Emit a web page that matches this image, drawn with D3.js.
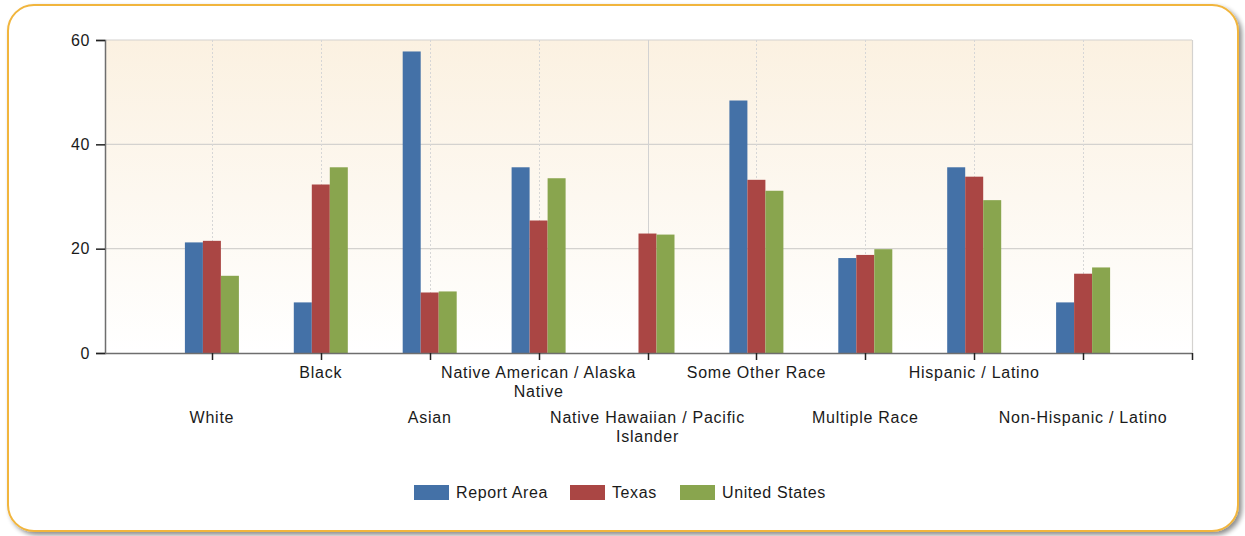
<!DOCTYPE html>
<html>
<head>
<meta charset="utf-8">
<script src="https://cdn.jsdelivr.net/npm/d3@7"></script>
<style>
  html, body { margin: 0; padding: 0; background: #ffffff; }
  svg { display: block; }
  text { font-family: "Liberation Sans", Arial, sans-serif; fill: #1a1a1a; }
</style>
</head>
<body>
<svg id="chart" width="1245" height="536"></svg>
<script>
// Race / ethnicity categories (axis order)
const categories = [
  "White", "Black", "Asian", "Native American / Alaska Native",
  "Native Hawaiian / Pacific Islander", "Some Other Race", "Multiple Race",
  "Hispanic / Latino", "Non-Hispanic / Latino"
];
// Wrapped label lines per category
const categoryLines = [
  ["White"], ["Black"], ["Asian"], ["Native American / Alaska", "Native"],
  ["Native Hawaiian / Pacific", "Islander"], ["Some Other Race"], ["Multiple Race"],
  ["Hispanic / Latino"], ["Non-Hispanic / Latino"]
];
const seriesNames = ["Report Area", "Texas", "United States"];
const reportArea   = [21.2, 9.7, 57.8, 35.6, 0, 48.4, 18.2, 35.6, 9.7];
const texas        = [21.5, 32.3, 11.6, 25.4, 22.9, 33.2, 18.8, 33.8, 15.2];
const unitedStates = [14.8, 35.6, 11.8, 33.5, 22.7, 31.1, 19.9, 29.3, 16.4];
const yTicks = [0, 20, 40, 60];
const colors = ["#4471a7", "#aa4644", "#89a54e"];

const seriesValues = [reportArea, texas, unitedStates];

const svg = d3.select("#chart");
const defs = svg.append("defs");

// Frame drop shadow
const shadow = defs.append("filter").attr("id", "frameShadow")
  .attr("x", "-5%").attr("y", "-5%").attr("width", "110%").attr("height", "115%");
shadow.append("feGaussianBlur").attr("in", "SourceAlpha").attr("stdDeviation", 2.5).attr("result", "blur");
shadow.append("feOffset").attr("in", "blur").attr("dx", 3).attr("dy", 3).attr("result", "off");
shadow.append("feComponentTransfer").attr("in", "off").attr("result", "soft")
  .append("feFuncA").attr("type", "linear").attr("slope", 0.45);
const merge = shadow.append("feMerge");
merge.append("feMergeNode").attr("in", "soft");
merge.append("feMergeNode").attr("in", "SourceGraphic");

// Plot background gradient
const grad = defs.append("linearGradient").attr("id", "plotBg")
  .attr("x1", 0).attr("y1", 0).attr("x2", 0).attr("y2", 1);
grad.append("stop").attr("offset", "0%").attr("stop-color", "#fbf1e1");
grad.append("stop").attr("offset", "100%").attr("stop-color", "#ffffff");

// Rounded outer frame
svg.append("rect")
  .attr("x", 8).attr("y", 5).attr("width", 1230).attr("height", 526)
  .attr("rx", 26).attr("ry", 26)
  .attr("fill", "#ffffff")
  .attr("stroke", "#f1b53c").attr("stroke-width", 2)
  .attr("filter", "url(#frameShadow)");

const plot = { left: 105, top: 40, right: 1192, bottom: 353 };

const x = d3.scalePoint()
  .domain(categories)
  .range([plot.left - 2, plot.right])
  .padding(1);

const y = d3.scaleLinear().domain([0, 60]).range([plot.bottom, plot.top]);

const barW = 18;
const xs = d3.scaleBand().domain(seriesNames)
  .range([-barW * 1.5, barW * 1.5]).padding(0);

// Plot background
svg.append("rect")
  .attr("x", plot.left).attr("y", plot.top)
  .attr("width", plot.right - plot.left).attr("height", plot.bottom - plot.top)
  .attr("fill", "url(#plotBg)");

// Horizontal grid lines
svg.append("g").selectAll("line")
  .data(yTicks.filter(d => d > 0))
  .join("line")
  .attr("x1", plot.left).attr("x2", plot.right)
  .attr("y1", d => y(d)).attr("y2", d => y(d))
  .attr("stroke", "#d4d2cf").attr("stroke-width", 1.2);

// Vertical grid lines at category positions
svg.append("g").selectAll("line")
  .data(categories)
  .join("line")
  .attr("x1", d => Math.round(x(d)) + 0.5).attr("x2", d => Math.round(x(d)) + 0.5)
  .attr("y1", plot.top).attr("y2", plot.bottom)
  .attr("stroke", (d, i) => i === 4 ? "#d2d2d2" : "#d6d6d6")
  .attr("stroke-dasharray", (d, i) => i === 4 ? null : "2,2")
  .attr("stroke-width", 1);

// Right plot border
svg.append("line")
  .attr("x1", plot.right + 0.5).attr("x2", plot.right + 0.5)
  .attr("y1", plot.top).attr("y2", plot.bottom)
  .attr("stroke", "#d4d2cf").attr("stroke-width", 1.2);

// Bars
const groups = svg.append("g").selectAll("g")
  .data(categories)
  .join("g")
  .attr("transform", d => `translate(${x(d)},0)`);

groups.selectAll("rect")
  .data((c, i) => seriesNames.map((s, k) => ({ s, v: seriesValues[k][i], k })))
  .join("rect")
  .filter(d => d.v > 0)
  .attr("x", d => xs(d.s))
  .attr("width", xs.bandwidth())
  .attr("y", d => y(d.v))
  .attr("height", d => y(0) - y(d.v))
  .attr("fill", d => colors[d.k]);

// Y axis
const yAxis = svg.append("g")
  .attr("transform", `translate(${plot.left},0)`)
  .call(d3.axisLeft(y).tickValues(yTicks).tickSize(9).tickPadding(6).tickFormat(d3.format("d")));
yAxis.select(".domain").attr("stroke", "#6e6e6e").attr("stroke-width", 1.5);
yAxis.selectAll(".tick line").attr("stroke", "#222").attr("stroke-width", 1.5);
yAxis.selectAll(".tick text")
  .style("font-size", "16px").style("letter-spacing", "0.6px").attr("fill", "#1a1a1a")
  .attr("font-family", "Liberation Sans, Arial, sans-serif");

// X axis
const xAxisTicks = categories.map(c => x(c)).concat([plot.right]);
svg.append("line")
  .attr("x1", plot.left).attr("x2", plot.right)
  .attr("y1", plot.bottom + 0.5).attr("y2", plot.bottom + 0.5)
  .attr("stroke", "#6e6e6e").attr("stroke-width", 1.5);
svg.append("g").selectAll("line")
  .data(xAxisTicks)
  .join("line")
  .attr("x1", d => Math.round(d) + 0.5).attr("x2", d => Math.round(d) + 0.5)
  .attr("y1", plot.bottom).attr("y2", plot.bottom + 7)
  .attr("stroke", "#222").attr("stroke-width", 1.5);

// Staggered category labels
const labels = svg.append("g").selectAll("text")
  .data(categories)
  .join("text")
  .attr("text-anchor", "middle")
  .attr("transform", (d, i) => `translate(${x(d)},${i % 2 === 1 ? 378 : 423})`)
  .style("font-size", "16px")
  .style("letter-spacing", "0.75px");
labels.selectAll("tspan")
  .data((d, i) => categoryLines[i])
  .join("tspan")
  .attr("x", 0)
  .attr("dy", (d, j) => j === 0 ? 0 : 19)
  .text(d => d);

// Legend
const legendItems = [
  { name: seriesNames[0], x: 414 },
  { name: seriesNames[1], x: 570 },
  { name: seriesNames[2], x: 680 }
];
const legend = svg.append("g").selectAll("g")
  .data(legendItems)
  .join("g")
  .attr("transform", d => `translate(${d.x},485)`);
legend.append("rect")
  .attr("width", 35).attr("height", 15)
  .attr("fill", (d, i) => colors[i]);
legend.append("text")
  .attr("x", 42).attr("y", 13)
  .style("font-size", "16px")
  .style("letter-spacing", "0.6px")
  .text(d => d.name);
</script>
</body>
</html>
